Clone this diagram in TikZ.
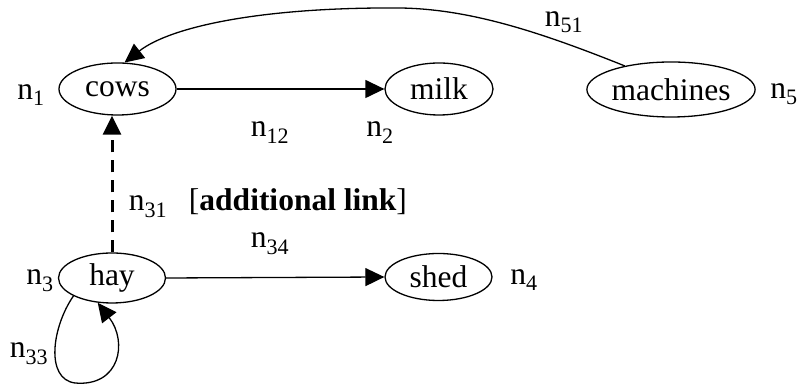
\documentclass[tikz,border=0pt]{standalone}
\usepackage{fontspec}
\setmainfont{Liberation Serif}
\usetikzlibrary{arrows.meta,shapes.geometric}

\newcommand{\lbl}[1]{n\textsubscript{#1}}

\begin{document}
\begin{tikzpicture}[x=1pt, y=1pt, line join=round, line width=1.3pt,
		font=\fontsize{31.5}{36}\selectfont,
		>={Triangle[length=19pt,width=18pt]},
		item/.style={ellipse, draw, inner sep=0pt, minimum height=52pt},
		tag/.style={anchor=base}]
	\useasboundingbox (0,0) rectangle (798,387);
	% Các nút
	\node[item, minimum width=117pt] (cows) at (117.5,298) {cows};
	\node[item, minimum width=108pt] (milk) at (439,298) {milk};
	\node[item, minimum width=160pt, minimum height=55pt] (machines) at (671,297.5) {machines};
	\node[item, minimum width=107pt, minimum height=50pt] (hay) at (112,109) {hay};
	\node[item, minimum width=107pt, minimum height=47pt] (shed) at (438.5,110) {shed};
	% Nhãn các nút và các cung
	\node[tag] (l1) at (31,287) {\lbl{1}};
	\node[tag] (l2) at (380,250) {\lbl{2}};
	\node[tag] (l3) at (40,102) {\lbl{3}};
	\node[tag] (l4) at (524,102) {\lbl{4}};
	\node[tag] (l5) at (784,288) {\lbl{5}};
	\node[tag] (l12) at (270,250) {\lbl{12}};
	\node[tag] (l31) at (148,176) {\lbl{31}};
	\node[tag] (l33) at (29,29) {\lbl{33}};
	\node[tag] (l34) at (270,139) {\lbl{34}};
	\node[tag] (l51) at (564,360) {\lbl{51}};
	\node[anchor=base west] (extra) at (185,176) {[\textbf{additional link}]};
	% Các cung
	\draw[->] (cows.east) -- (milk.west);
	\draw[->] (hay.east) -- (shed.west);
	\draw[->] (machines.153) .. controls (540,355) and (470,378) .. (400,379)
		.. controls (260,380) and (170,360) .. (cows.75);
	\draw[->, line width=3pt, dash pattern=on 12pt off 8pt] (hay.north) -- (hay.north |- cows.south);
	% Vòng lặp tại hay
	\draw[->] (hay.205) .. controls (52,60) and (45,8) .. (75,4)
		.. controls (120,0) and (128,45) .. (hay.240);
\end{tikzpicture}
\end{document}
